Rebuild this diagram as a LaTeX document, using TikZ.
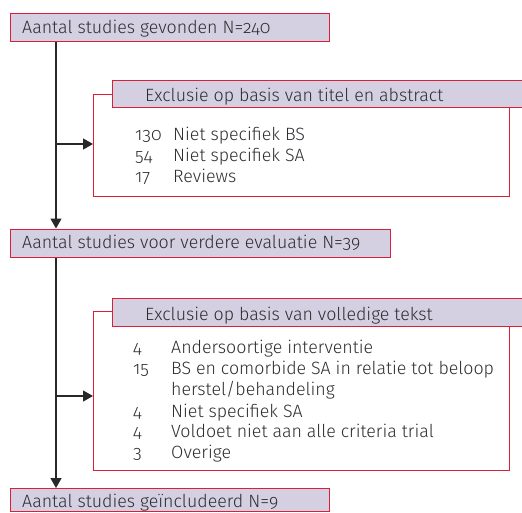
\documentclass[tikz,border=0pt]{standalone}
\usepackage{fontspec}
\setmainfont{Fira Sans}[UprightFont=* Light, Numbers=OldStyle]
\usetikzlibrary{arrows.meta}
\definecolor{boxred}{RGB}{218,32,56}
\definecolor{boxfill}{RGB}{212,208,225}
\definecolor{txt}{RGB}{45,45,50}
\definecolor{linegrey}{RGB}{40,40,40}
\tikzset{
  mainbox/.style={draw=boxred, line width=1.3pt, fill=boxfill, anchor=north west,
    inner xsep=0pt, inner ysep=0pt},
  framebox/.style={draw=boxred, line width=1pt, anchor=north west, inner sep=0pt},
  itemtxt/.style={anchor=base west, inner sep=0pt, text=txt, font=\fontsize{17.8}{21}\selectfont},
  conn/.style={draw=linegrey, line width=1.3pt},
  arr/.style={conn, -{Triangle[length=10pt,width=11pt]}}
}
\begin{document}
\begin{tikzpicture}[x=1pt,y=-1pt]
\useasboundingbox (0,0) rectangle (522,512);
% box 1
\node[mainbox, minimum width=319pt, minimum height=28.3pt] (b1) at (10,12.7) {};
\node[itemtxt] (b1t) at (22,33) {Aantal studies gevonden N=240};
% frame 1
\node[framebox, minimum width=416pt, minimum height=102pt] (f1) at (93,94) {};
\node[mainbox, minimum width=413pt, minimum height=27pt] (h1) at (112,80) {};
\node[itemtxt] (h1t) at (145,101) {Exclusie op basis van titel en abstract};
\node[itemtxt] (n11) at (135,140) {130};
\node[itemtxt] (t11) at (173,140) {Niet specifiek BS};
\node[itemtxt] (n12) at (135,161) {54};
\node[itemtxt] (t12) at (173,161) {Niet specifiek SA};
\node[itemtxt] (n13) at (135,182) {17};
\node[itemtxt] (t13) at (173,182) {Reviews};
% box 3
\node[mainbox, minimum width=380pt, minimum height=28.2pt] (b3) at (10,228.5) {};
\node[itemtxt] (b3t) at (22,248) {Aantal studies voor verdere evaluatie N=39};
% frame 2
\node[framebox, minimum width=416pt, minimum height=159pt] (f2) at (93,311) {};
\node[mainbox, minimum width=413pt, minimum height=28pt] (h2) at (112,298) {};
\node[itemtxt] (h2t) at (145,320) {Exclusie op basis van volledige tekst};
\node[itemtxt] (n21) at (133,353) {4};
\node[itemtxt] (t21) at (171,353) {Andersoortige interventie};
\node[itemtxt] (n22) at (133,374) {15};
\node[itemtxt] (t22) at (171,374) {BS en comorbide SA in relatie tot beloop};
\node[itemtxt] (t22b) at (171,395) {herstel/behandeling};
\node[itemtxt] (n23) at (133,417) {4};
\node[itemtxt] (t23) at (171,417) {Niet specifiek SA};
\node[itemtxt] (n24) at (133,437) {4};
\node[itemtxt] (t24) at (171,437) {Voldoet niet aan alle criteria trial};
\node[itemtxt] (n25) at (133,458) {3};
\node[itemtxt] (t25) at (171,458) {Overige};
% box 5
\node[mainbox, minimum width=319pt, minimum height=23pt] (b5) at (10,488) {};
\node[itemtxt] (b5t) at (22,507) {Aantal studies geïncludeerd N=9};
% connectors
\coordinate (trunk) at (56,0);
\coordinate (br1) at (56,144);
\coordinate (br2) at (56,396);
\draw[arr] (b1.south -| trunk) -- (b3.north -| trunk);
\draw[arr] (b3.south -| trunk) -- (b5.north -| trunk);
\draw[arr] (br1) -- (f1.west |- br1);
\draw[arr] (br2) -- (f2.west |- br2);
\end{tikzpicture}
\end{document}
